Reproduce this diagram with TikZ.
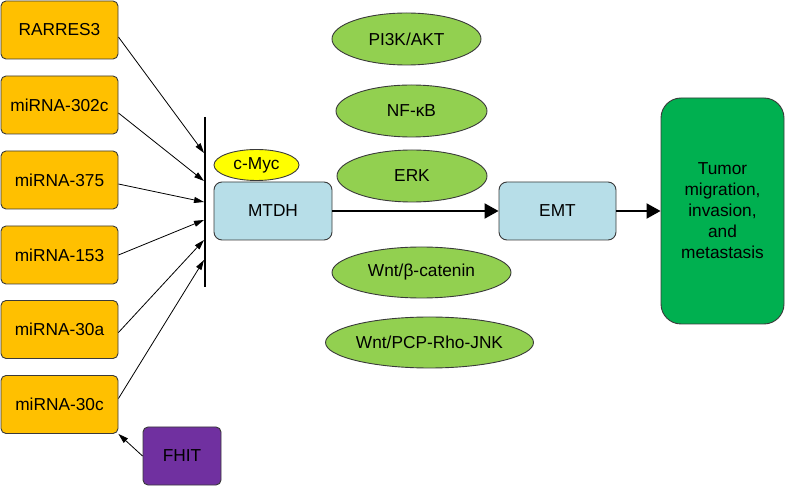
\documentclass[tikz,border=0pt]{standalone}
\usepackage{fontspec}
\setmainfont{Liberation Sans}
\usetikzlibrary{arrows.meta,shapes.geometric,calc}
\definecolor{cOrange}{HTML}{FFC000}
\definecolor{cBlue}{HTML}{B7DEE8}
\definecolor{cLeaf}{HTML}{92D050}
\definecolor{cDeep}{HTML}{00B050}
\definecolor{cPurple}{HTML}{7030A0}
\definecolor{cYellow}{HTML}{FFFF00}
\definecolor{cEdge}{HTML}{3A3A3A}
\begin{document}
\begin{tikzpicture}[x=1pt,y=-1pt,
  every node/.style={font=\fontsize{17.3}{21}\selectfont, text=black},
  obox/.style={draw=cEdge, line width=0.9pt, fill=cOrange, rounded corners=5pt,
    minimum width=117pt, minimum height=58pt, inner sep=0pt},
  bbox/.style={draw=cEdge, line width=0.9pt, fill=cBlue, rounded corners=8pt,
    minimum width=118pt, minimum height=58pt, inner sep=0pt},
  gell/.style={ellipse, draw=cEdge, line width=0.9pt, fill=cLeaf, inner sep=0pt},
  thin/.style={line width=0.8pt, -{Triangle[length=10pt,width=6pt]}},
  thick/.style={line width=2pt, -{Triangle[length=14pt,width=15pt]}}
]
\useasboundingbox (0,0) rectangle (785,486);

% left boxes
\node[obox] (rar) at (59.5,30) {RARRES3};
\node[obox] (m302) at (59.5,105) {miRNA-302c};
\node[obox] (m375) at (59.5,180) {miRNA-375};
\node[obox] (m153) at (59.5,255) {miRNA-153};
\node[obox] (m30a) at (59.5,329.5) {miRNA-30a};
\node[obox] (m30c) at (59.5,404.5) {miRNA-30c};
\node[obox, fill=cPurple, minimum width=78pt] (fhit) at (182,456) {FHIT};

% bar
\coordinate (bt) at (205,117);
\coordinate (bb) at (205,287);
\draw[line width=2pt] (bt) -- (bb);
\coordinate (e1) at (204,153);
\coordinate (e2) at (204,181);
\coordinate (e3) at (204,202);
\coordinate (e4) at (204,220);
\coordinate (e5) at (204,240);
\coordinate (e6) at (204,260);

\draw[thin] ($(rar.east)+(0,7)$) -- (e1);
\draw[thin] ($(m302.east)+(0,8)$) -- (e2);
\draw[thin] ($(m375.east)+(0,4)$) -- (e3);
\draw[thin] (m153.east) -- (e4);
\draw[thin] ($(m30a.east)+(0,3)$) -- (e5);
\draw[thin] ($(m30c.east)+(0,-6)$) -- (e6);
\draw[thin] (fhit.west) -- (m30c.south east);

% MTDH and c-Myc
\node[bbox] (mtdh) at (273,211) {MTDH};
\node[ellipse, draw=cEdge, line width=0.9pt, fill=cYellow, minimum width=85pt,
  minimum height=31pt, inner sep=0pt] (cmyc) at (256.5,165) {c-Myc};

% EMT
\node[bbox, minimum width=117pt] (emt) at (557.5,211) {EMT};

% Tumor
\node[draw=cEdge, line width=0.9pt, fill=cDeep, rounded corners=20pt,
  minimum width=123pt, minimum height=226pt, inner sep=0pt, align=center]
  (tum) at (722.5,211) {Tumor\\migration,\\invasion,\\and\\metastasis};

\draw[thick] (mtdh.east) -- (emt.west);
\draw[thick] (emt.east) -- (tum.west);

% green ellipses
\node[gell, minimum width=149pt, minimum height=52pt] (pi3k) at (406.5,39) {PI3K/AKT};
\node[gell, minimum width=151pt, minimum height=52pt] (nfkb) at (411.5,111) {NF-κB};
\node[gell, minimum width=150pt, minimum height=52pt] (erk) at (412,176) {ERK};
\node[gell, minimum width=179pt, minimum height=51pt] (wntb) at (421.5,272.5) {Wnt/β-catenin};
\node[gell, minimum width=207pt, minimum height=51pt] (wntp) at (429.5,342.5) {Wnt/PCP-Rho-JNK};
\end{tikzpicture}
\end{document}
